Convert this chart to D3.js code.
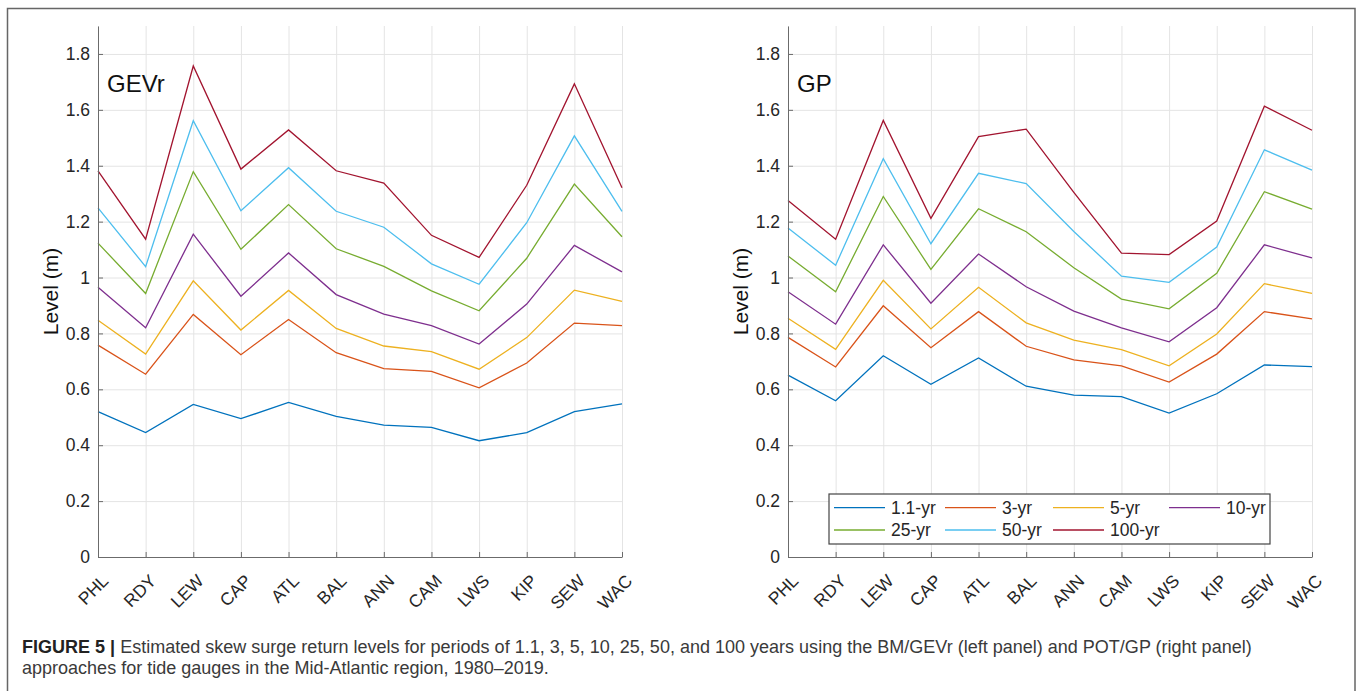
<!DOCTYPE html>
<html>
<head>
<meta charset="utf-8">
<script src="https://cdn.jsdelivr.net/npm/d3@7"></script>
<style>
  body { margin: 0; background: #fff; }
  svg { display: block; }
</style>
</head>
<body>
<div id="chart"></div>
<script>
var stations = ["PHL", "RDY", "LEW", "CAP", "ATL", "BAL", "ANN", "CAM", "LWS", "KIP", "SEW", "WAC"];
var periods = ["1.1-yr", "3-yr", "5-yr", "10-yr", "25-yr", "50-yr", "100-yr"];
var periodColors = ["#0072BD", "#D95319", "#EDB120", "#7E2F8E", "#77AC30", "#4DBEEE", "#A2142F"];
var yTicks = [0, 0.2, 0.4, 0.6, 0.8, 1, 1.2, 1.4, 1.6, 1.8];

// left panel, BM/GEVr return levels (m)
var gevr_1_1 = [0.520, 0.445, 0.546, 0.495, 0.553, 0.503, 0.472, 0.464, 0.416, 0.445, 0.520, 0.548];
var gevr_3   = [0.758, 0.654, 0.868, 0.724, 0.850, 0.731, 0.674, 0.664, 0.605, 0.694, 0.837, 0.828];
var gevr_5   = [0.847, 0.726, 0.988, 0.812, 0.954, 0.818, 0.755, 0.735, 0.672, 0.785, 0.955, 0.915];
var gevr_10  = [0.965, 0.820, 1.155, 0.933, 1.088, 0.939, 0.869, 0.828, 0.762, 0.905, 1.115, 1.020];
var gevr_25  = [1.123, 0.943, 1.379, 1.101, 1.261, 1.103, 1.040, 0.952, 0.881, 1.069, 1.334, 1.146];
var gevr_50  = [1.249, 1.039, 1.561, 1.239, 1.393, 1.237, 1.180, 1.049, 0.976, 1.196, 1.507, 1.237];
var gevr_100 = [1.382, 1.137, 1.757, 1.388, 1.528, 1.382, 1.338, 1.151, 1.072, 1.330, 1.693, 1.321];

// right panel, POT/GP return levels (m)
var gp_1_1 = [0.651, 0.559, 0.720, 0.618, 0.712, 0.611, 0.579, 0.574, 0.515, 0.584, 0.687, 0.681];
var gp_3   = [0.786, 0.680, 0.899, 0.749, 0.878, 0.754, 0.705, 0.684, 0.626, 0.726, 0.878, 0.852];
var gp_5   = [0.854, 0.743, 0.990, 0.816, 0.965, 0.838, 0.776, 0.742, 0.684, 0.798, 0.978, 0.943];
var gp_10  = [0.949, 0.833, 1.117, 0.908, 1.084, 0.967, 0.880, 0.820, 0.770, 0.892, 1.117, 1.070];
var gp_25  = [1.077, 0.949, 1.290, 1.029, 1.246, 1.164, 1.035, 0.923, 0.888, 1.015, 1.307, 1.245];
var gp_50  = [1.177, 1.044, 1.425, 1.121, 1.373, 1.336, 1.165, 1.005, 0.983, 1.109, 1.457, 1.384];
var gp_100 = [1.276, 1.137, 1.562, 1.212, 1.504, 1.531, 1.305, 1.087, 1.082, 1.202, 1.613, 1.527];

var gevrLevels = [gevr_1_1, gevr_3, gevr_5, gevr_10, gevr_25, gevr_50, gevr_100];
var gpLevels = [gp_1_1, gp_3, gp_5, gp_10, gp_25, gp_50, gp_100];

var width = 1360, height = 691;
var plotTop = 26, plotBottom = 557, plotW = 524;
var fontFamily = "'Liberation Sans', Arial, Helvetica, sans-serif";
var axisColor = "#6b6b6b";
var gridColor = "#e4e4e4";
var textColor = "#262626";

var svg = d3.select("#chart")
    .append("svg")
    .attr("width", width)
    .attr("height", height);

// figure frame
svg.append("rect")
    .attr("x", 7.5)
    .attr("y", 8.5)
    .attr("width", 1347.5)
    .attr("height", 720)
    .style("fill", "none")
    .style("stroke", "#666")
    .style("stroke-width", 1.5);

function drawPanel(left, title, levels, withLegend) {
    var x = d3.scalePoint()
        .domain(stations)
        .range([left, left + plotW]);
    var y = d3.scaleLinear()
        .domain([0, 1.9])
        .range([plotBottom, plotTop]);

    var g = svg.append("g");

    // grid
    var gridX = g.append("g")
        .attr("transform", `translate(0, ${plotBottom})`)
        .call(d3.axisBottom(x).tickSize(-(plotBottom - plotTop)).tickFormat(""));
    gridX.select(".domain").remove();
    gridX.selectAll("line").style("stroke", gridColor);

    var gridY = g.append("g")
        .attr("transform", `translate(${left}, 0)`)
        .call(d3.axisLeft(y).tickValues(yTicks).tickSize(-plotW).tickFormat(""));
    gridY.select(".domain").remove();
    gridY.selectAll("line").style("stroke", gridColor);

    // lines
    var line = d3.line()
        .x((d, i) => x(stations[i]))
        .y(d => y(d));
    g.append("g")
        .selectAll("path")
        .data(levels)
        .enter()
        .append("path")
        .attr("d", d => line(d))
        .style("fill", "none")
        .style("stroke", (d, i) => periodColors[i])
        .style("stroke-width", 1.3);

    // axes
    var yAxis = g.append("g")
        .attr("transform", `translate(${left}, 0)`)
        .call(d3.axisLeft(y)
            .tickValues(yTicks)
            .tickSizeInner(-5)
            .tickSizeOuter(0)
            .tickPadding(8)
            .tickFormat(d3.format("~g")));
    yAxis.attr("font-family", fontFamily).attr("font-size", 17.5);
    yAxis.selectAll("text").style("fill", textColor);
    yAxis.selectAll("line, path").style("stroke", axisColor);

    var xAxis = g.append("g")
        .attr("transform", `translate(0, ${plotBottom})`)
        .call(d3.axisBottom(x).tickSizeInner(-5).tickSizeOuter(0));
    xAxis.attr("font-family", fontFamily).attr("font-size", 17.5);
    xAxis.selectAll("line, path").style("stroke", axisColor);
    xAxis.selectAll("text")
        .attr("y", null)
        .attr("dy", null)
        .style("text-anchor", "end")
        .style("fill", textColor)
        .attr("transform", "translate(11, 25) rotate(-45)");

    // y label
    g.append("text")
        .text("Level (m)")
        .attr("transform", `translate(${left - 40}, ${(plotTop + plotBottom) / 2}) rotate(-90)`)
        .style("text-anchor", "middle")
        .style("font-family", fontFamily)
        .style("font-size", "21px")
        .style("fill", "#111");

    // panel title
    g.append("text")
        .text(title)
        .attr("x", left + 9)
        .attr("y", 92)
        .style("font-family", fontFamily)
        .style("font-size", "24px")
        .style("fill", "#111");

    if (withLegend) {
        var legendX = left + 41, legendY = 494;
        var colShift = [5, 116, 224, 340];
        var legendG = g.append("g")
            .attr("transform", `translate(${legendX}, ${legendY})`);
        legendG.append("rect")
            .attr("width", 441)
            .attr("height", 50)
            .style("fill", "#fff")
            .style("stroke", "#444")
            .style("stroke-width", 1.2);
        periods.forEach((p, i) => {
            var item = legendG.append("g")
                .attr("transform", `translate(${colShift[i % 4]}, ${i < 4 ? 13.7 : 36})`);
            item.append("line")
                .attr("x1", 0)
                .attr("x2", 51)
                .style("stroke", periodColors[i])
                .style("stroke-width", 1.3);
            item.append("text")
                .text(p)
                .attr("x", 57)
                .attr("dy", "0.35em")
                .style("font-family", fontFamily)
                .style("font-size", "17.5px")
                .style("fill", textColor);
        });
    }
}

drawPanel(98, "GEVr", gevrLevels, false);
drawPanel(788, "GP", gpLevels, true);

// caption
var captionLine1 = "Estimated skew surge return levels for periods of 1.1, 3, 5, 10, 25, 50, and 100 years using the BM/GEVr (left panel) and POT/GP (right panel)";
var captionLine2 = "approaches for tide gauges in the Mid-Atlantic region, 1980\u20132019.";

var cap = svg.append("g")
    .style("font-family", fontFamily)
    .style("fill", "#3a3a3a");
var t1 = cap.append("text")
    .attr("x", 22)
    .attr("y", 653)
    .style("font-size", "18px");
t1.append("tspan").text("FIGURE 5 | ").style("font-weight", "bold").style("fill", "#222");
t1.append("tspan").text(captionLine1);
var w1 = t1.node().getComputedTextLength();
var capSize = 18 * 1231 / w1;
t1.style("font-size", capSize + "px");
cap.append("text")
    .attr("x", 22)
    .attr("y", 674)
    .style("font-size", capSize + "px")
    .text(captionLine2);
</script>
</body>
</html>
